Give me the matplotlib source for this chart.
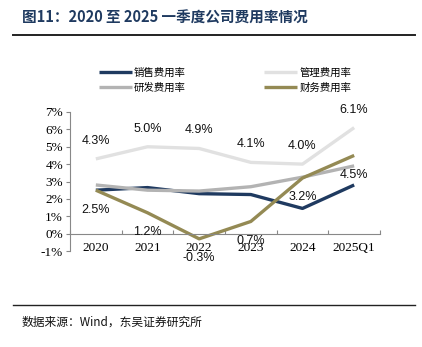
import matplotlib.pyplot as plt
import matplotlib.lines as mlines

plt.rcParams['font.family'] = ['Noto Sans CJK SC', 'DejaVu Sans']

years = ['2020', '2021', '2022', '2023', '2024', '2025Q1']
sales = [2.5, 2.65, 2.3, 2.25, 1.45, 2.8]
admin = [4.3, 5.0, 4.9, 4.1, 4.0, 6.1]
rnd = [2.8, 2.5, 2.45, 2.7, 3.25, 3.9]
finance = [2.5, 1.2, -0.3, 0.7, 3.2, 4.5]
yticks = [-1, 0, 1, 2, 3, 4, 5, 6, 7]

c_sales = '#1f3a60'
c_admin = '#e1e1e1'
c_rnd = '#b3b3b3'
c_fin = '#948a54'

fig = plt.figure(figsize=(4.22, 3.47), dpi=100)
ax = fig.add_axes([70 / 422, 1 - 251 / 347, 310 / 422, 139 / 347])

x = list(range(len(years)))
lw = 2.4
ax.plot(x, sales, color=c_sales, lw=lw, label='销售费用率', solid_capstyle='butt')
ax.plot(x, admin, color=c_admin, lw=lw, label='管理费用率', solid_capstyle='butt')
ax.plot(x, rnd, color=c_rnd, lw=lw, label='研发费用率', solid_capstyle='butt')
ax.plot(x, finance, color=c_fin, lw=lw, label='财务费用率', solid_capstyle='butt')

lab_font = dict(family=['Liberation Sans', 'DejaVu Sans'], size=9, color='#111111')
for i, v in enumerate(admin):
    ax.annotate(f'{v:.1f}%', (i, v), xytext=(0, 13), textcoords='offset points',
                ha='center', va='center', **lab_font)
for i, v in enumerate(finance):
    ax.annotate(f'{v:.1f}%', (i, v), xytext=(0, -14), textcoords='offset points',
                ha='center', va='center', **lab_font)

ax.set_xlim(-0.5, len(years) - 0.5)
ax.set_ylim(-1, 7)

ax.set_yticks(yticks)
ax.set_yticklabels([f'{t}%' for t in yticks])
ax.tick_params(axis='y', direction='out', length=3, color='#888888', pad=2,
               labelsize=9.5, labelfontfamily='Liberation Serif')

# category labels on minor ticks, boundary ticks on major
ax.set_xticks([i - 0.5 for i in range(len(years) + 1)])
ax.set_xticklabels([])
ax.tick_params(axis='x', which='major', direction='in', length=3, color='#888888')
ax.set_xticks(x, minor=True)
ax.set_xticklabels(years, minor=True)
ax.tick_params(axis='x', which='minor', length=0, pad=6,
               labelsize=9.5, labelfontfamily='Liberation Serif')

ax.spines['bottom'].set_position(('data', 0))
for s in ['top', 'right']:
    ax.spines[s].set_visible(False)
for s in ['left', 'bottom']:
    ax.spines[s].set_color('#888888')
    ax.spines[s].set_linewidth(0.8)

handles, labels = ax.get_legend_handles_labels()
order = [0, 2, 1, 3]
fig.legend([handles[i] for i in order], [labels[i] for i in order],
           ncol=2, loc='center', bbox_to_anchor=(225 / 422, 1 - 80 / 347),
           frameon=False, fontsize=7.5, handlelength=3.2, handletextpad=0.2,
           columnspacing=7.5, labelspacing=0.5)

fig.text(22 / 422, 1 - 18 / 347, '图11：2020 至 2025 一季度公司费用率情况',
         fontsize=10.5, fontweight='bold', color='#1f3a60', va='center', ha='left')
fig.add_artist(mlines.Line2D([13 / 422, 415 / 422], [1 - 35 / 347, 1 - 35 / 347],
                             color='#222222', lw=1.4))
fig.add_artist(mlines.Line2D([13 / 422, 415 / 422], [1 - 305 / 347, 1 - 305 / 347],
                             color='#222222', lw=1.0))
fig.text(22 / 422, 1 - 322 / 347, '数据来源：Wind，东吴证券研究所',
         fontsize=8.5, color='#111111', va='center', ha='left')

fig.savefig('out.png', dpi=100)
